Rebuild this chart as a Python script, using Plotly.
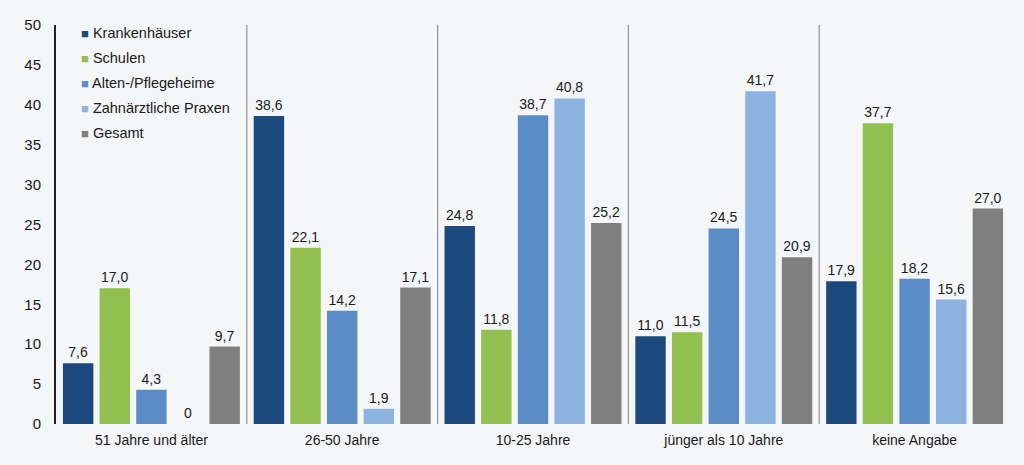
import plotly.graph_objects as go

categories = ["51 Jahre und älter", "26-50 Jahre", "10-25 Jahre", "jünger als 10 Jahre", "keine Angabe"]
series_names = ["Krankenhäuser", "Schulen", "Alten-/Pflegeheime", "Zahnärztliche Praxen", "Gesamt"]
krankenhaeuser = [7.6, 38.6, 24.8, 11.0, 17.9]
schulen = [17.0, 22.1, 11.8, 11.5, 37.7]
altenheime = [4.3, 14.2, 38.7, 24.5, 18.2]
zahnarzt = [0, 1.9, 40.8, 41.7, 15.6]
gesamt = [9.7, 17.1, 25.2, 20.9, 27.0]
y_ticks = [0, 5, 10, 15, 20, 25, 30, 35, 40, 45, 50]

series = [krankenhaeuser, schulen, altenheime, zahnarzt, gesamt]
colors = ["#1d4a7e", "#92c050", "#5a8dc8", "#8db3e1", "#7f7f7f"]

def fmt(v):
    if v == 0:
        return "0"
    return f"{v:.1f}".replace(".", ",")

fig = go.Figure()
for name, vals, col in zip(series_names, series, colors):
    fig.add_trace(go.Bar(
        name=name, x=categories, y=vals,
        marker=dict(color=col, line=dict(width=0)),
        text=[fmt(v) for v in vals], textposition="outside",
        textfont=dict(size=14, color="#1a1a1a"),
        cliponaxis=False, showlegend=False, hoverinfo="skip",
    ))

for i in range(1, len(categories)):
    fig.add_shape(type="line", xref="x", yref="paper",
                  x0=i - 0.5, x1=i - 0.5, y0=0, y1=1,
                  line=dict(color="#949494", width=1.2))

# custom legend (small squares close to text)
for k, (name, col) in enumerate(zip(series_names, colors)):
    fig.add_annotation(
        xref="paper", yref="paper", x=0.024, y=0.98 - k * 0.0627,
        xanchor="left", yanchor="middle", showarrow=False, align="left",
        text=f"<span style='color:{col};font-size:13px'>■</span> {name}",
        font=dict(size=14.5, color="#1a1a1a"),
    )

bg = "#f4f6f8"
fig.update_layout(
    width=1024, height=465,
    paper_bgcolor=bg, plot_bgcolor=bg,
    margin=dict(l=56, r=14, t=25, b=41),
    barmode="group", bargap=0.04, bargroupgap=0.17,
    font=dict(family="Liberation Sans, Arial, sans-serif", size=14, color="#1a1a1a"),
    showlegend=False,
)
fig.update_yaxes(range=[0, 50], tickvals=y_ticks, showgrid=False, zeroline=False,
                 showline=True, linecolor="#222222", linewidth=2, ticks="",
                 tickfont=dict(size=15), ticklabelstandoff=10)
fig.update_xaxes(showgrid=False, showline=False, ticks="", tickfont=dict(size=14),
                 ticklabelstandoff=6)

fig.write_html("out.html", config={"displayModeBar": False},
               post_script="document.body.style.margin='0';document.body.style.overflow='hidden';")
